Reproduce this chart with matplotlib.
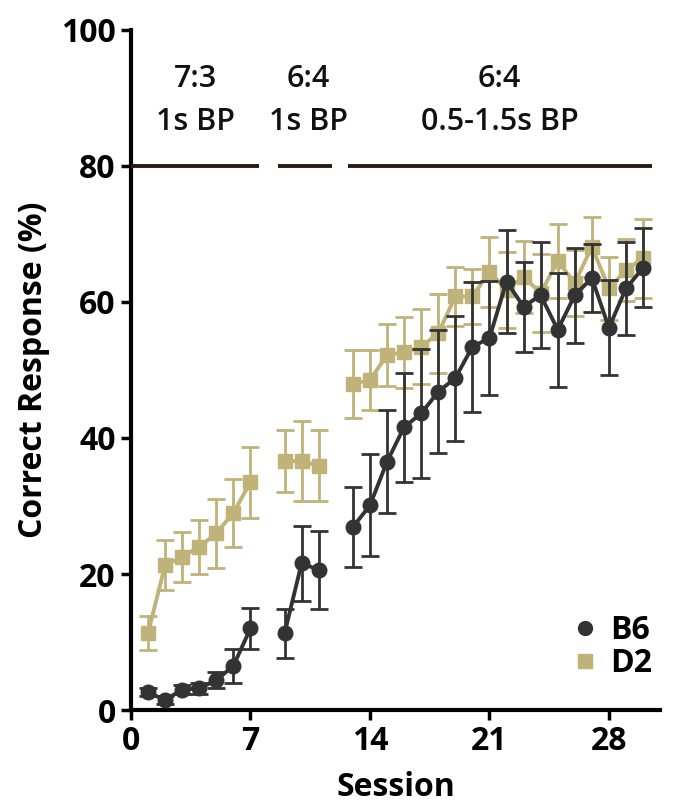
import numpy as np
import matplotlib
matplotlib.use("Agg")
import matplotlib.pyplot as plt
from matplotlib.lines import Line2D

nan = np.nan
sessions = list(range(1, 31))
b6_mean = [2.6, 1.5, 3.0, 3.2, 4.4, 6.5, 12.0, nan, 11.3, 21.6, 20.6, nan,
           26.9, 30.1, 36.5, 41.6, 43.6, 46.8, 48.8, 53.4, 54.7, 63.0, 59.3,
           61.0, 55.9, 61.0, 63.5, 56.2, 62.0, 65.0]
b6_err = [0.6, 0.6, 0.7, 0.8, 1.2, 2.5, 3.0, nan, 3.6, 5.5, 5.7, nan,
          5.9, 7.5, 7.6, 8.0, 9.5, 9.0, 9.2, 9.6, 8.4, 7.6, 6.6,
          7.8, 8.4, 7.0, 5.0, 7.0, 6.8, 5.8]
d2_mean = [11.3, 21.3, 22.5, 24.0, 26.0, 29.0, 33.5, nan, 36.6, 36.6, 35.9, nan,
           48.0, 48.5, 52.2, 52.6, 53.4, 55.4, 60.8, 60.8, 64.4, 61.8, 63.7,
           61.3, 66.0, 62.8, 68.1, 62.0, 64.7, 66.4]
d2_err = [2.5, 3.7, 3.7, 4.0, 5.1, 5.0, 5.2, nan, 4.6, 5.9, 5.2, nan,
          5.0, 4.4, 4.6, 5.2, 5.5, 5.8, 4.4, 4.1, 5.2, 5.6, 5.3,
          5.7, 5.4, 4.9, 4.4, 4.6, 4.6, 5.8]

phase_labels = ["7:3\n1s BP", "6:4\n1s BP", "6:4\n0.5-1.5s BP"]
phase_centers = [3.8, 10.4, 21.6]
phase_starts = [0.0, 8.6, 12.7]
phase_ends = [7.5, 11.8, 30.5]
criterion = 80

xticks = [0, 7, 14, 21, 28]
yticks = [0, 20, 40, 60, 80, 100]

B6_COLOR = "#333333"
D2_COLOR = "#bfb37a"
LINE_COLOR = "#2a1a14"

plt.rcParams['font.family'] = ['Open Sans', 'DejaVu Sans']

fig = plt.figure(figsize=(6.75, 8.06), dpi=100)
ax = fig.add_axes([0.194, 0.119, 0.784, 0.844])

ax.errorbar(sessions, d2_mean, yerr=d2_err, color=D2_COLOR, marker='s',
            markersize=10.5, linewidth=2.8, elinewidth=2, capsize=6.5,
            capthick=2, zorder=3)
ax.errorbar(sessions, b6_mean, yerr=b6_err, color=B6_COLOR, marker='o',
            markersize=10.5, linewidth=2.8, elinewidth=2, capsize=6.5,
            capthick=2, zorder=4)

for s, e in zip(phase_starts, phase_ends):
    ax.plot([s, e], [criterion, criterion], color=LINE_COLOR, linewidth=2.8,
            solid_capstyle='butt', zorder=5, clip_on=False)

for c, lab in zip(phase_centers, phase_labels):
    ax.text(c, 89.6, lab, ha='center', va='center', fontsize=22,
            fontweight='semibold', linespacing=1.55, color='#111111')

ax.set_xlim(0, 31)
ax.set_ylim(0, 100)
ax.set_xticks(xticks)
ax.set_yticks(yticks)
for sp in ['top', 'right']:
    ax.spines[sp].set_visible(False)
for sp in ['left', 'bottom']:
    ax.spines[sp].set_linewidth(3)
ax.tick_params(axis='both', direction='out', length=7, width=2.5,
               labelsize=23, pad=4)
for lab in ax.get_xticklabels() + ax.get_yticklabels():
    lab.set_fontweight('bold')

ax.set_xlabel("Session", fontsize=23, fontweight='bold', labelpad=9)
ax.set_ylabel("Correct Response (%)", fontsize=23, fontweight='bold', labelpad=8)

handles = [Line2D([], [], color=B6_COLOR, marker='o', linestyle='none', markersize=10),
           Line2D([], [], color=D2_COLOR, marker='s', linestyle='none', markersize=10)]
leg = ax.legend(handles, ["B6", "D2"], loc='lower right',
                bbox_to_anchor=(0.99, 0.136), bbox_transform=fig.transFigure,
                frameon=False, handlelength=0.7, handletextpad=0.45,
                labelspacing=0.0, borderpad=0, prop={'size': 23, 'weight': 'bold'})

fig.savefig("out.png", dpi=100)
